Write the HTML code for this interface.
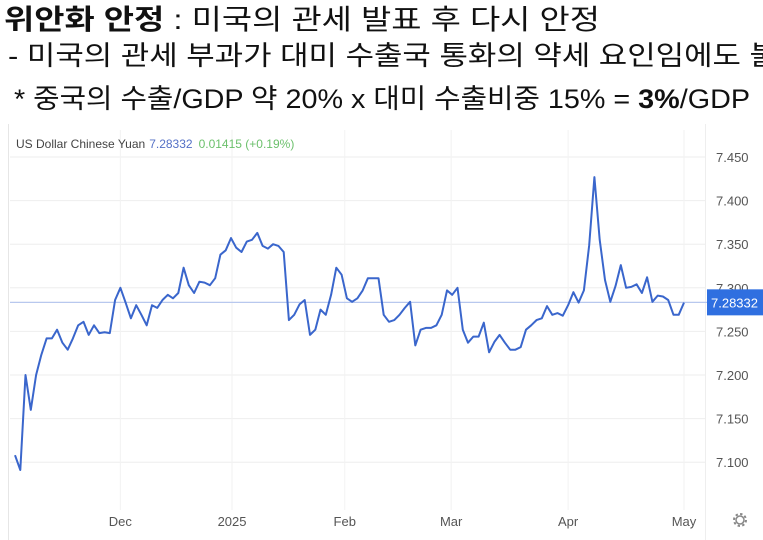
<!DOCTYPE html>
<html><head><meta charset="utf-8"><style>
html,body{margin:0;padding:0;background:#fff;width:763px;height:540px;overflow:hidden}
svg{display:block}
.k{font-family:"Liberation Sans","Noto Sans CJK KR",sans-serif}
</style></head><body>
<svg width="763" height="540">
<g class="k" fill="#111">
<text x="4" y="29" font-size="28" textLength="596" lengthAdjust="spacingAndGlyphs"><tspan font-weight="bold">위안화 안정</tspan> : 미국의 관세 발표 후 다시 안정</text>
<text x="8" y="65" font-size="27" textLength="770" lengthAdjust="spacingAndGlyphs">- 미국의 관세 부과가 대미 수출국 통화의 약세 요인임에도 불</text>
<text x="14" y="108" font-size="27" textLength="736" lengthAdjust="spacingAndGlyphs">* 중국의 수출/GDP 약 20% x 대미 수출비중 15% = <tspan font-weight="bold">3%</tspan>/GDP</text>
</g>
<rect x="8" y="124" width="755" height="416" fill="#fff"/>
<line x1="8.5" y1="124" x2="8.5" y2="540" stroke="#e6e6e6"/>
<g id="grid"></g>
<g id="series"></g>
<g id="axes" font-family="Liberation Sans,sans-serif"></g>
<text x="16" y="148" font-size="12" font-family="Liberation Sans,sans-serif"><tspan fill="#444">US Dollar Chinese Yuan</tspan><tspan fill="#5470c6" dx="4">7.28332</tspan><tspan fill="#6cc06c" dx="6">0.01415 (+0.19%)</tspan></text>
<g transform="translate(740,520)">
<circle r="6" fill="none" stroke="#888" stroke-width="2" stroke-dasharray="2.4 2.3"/>
<circle r="4" fill="none" stroke="#888" stroke-width="1.5"/>
</g>
</svg>
<script>
const yTicks=[7.45,7.40,7.35,7.30,7.25,7.20,7.15,7.10];
const monthLabels=["Dec","2025","Feb","Mar","Apr","May"];
const monthIndex=[20,41.2,62.6,82.8,105,127];
const lastPrice=7.28332;
const values=[7.108,7.091,7.200,7.160,7.200,7.223,7.242,7.242,7.252,7.237,7.229,7.242,7.257,7.261,7.246,7.257,7.248,7.249,7.248,7.286,7.300,7.283,7.265,7.280,7.269,7.257,7.280,7.277,7.286,7.292,7.288,7.294,7.323,7.303,7.294,7.307,7.306,7.303,7.311,7.338,7.343,7.357,7.346,7.341,7.353,7.355,7.363,7.348,7.345,7.350,7.348,7.341,7.263,7.269,7.281,7.286,7.246,7.252,7.275,7.269,7.292,7.323,7.315,7.288,7.284,7.288,7.297,7.311,7.311,7.311,7.269,7.261,7.263,7.269,7.277,7.284,7.234,7.252,7.254,7.254,7.257,7.269,7.297,7.292,7.300,7.252,7.237,7.244,7.244,7.260,7.226,7.238,7.246,7.237,7.229,7.229,7.232,7.252,7.257,7.263,7.265,7.279,7.269,7.271,7.268,7.280,7.295,7.283,7.297,7.349,7.427,7.355,7.309,7.284,7.302,7.326,7.300,7.301,7.304,7.294,7.312,7.284,7.291,7.290,7.286,7.269,7.269,7.283];
const NS="http://www.w3.org/2000/svg";
const X0=15,X1=684;
function x(i){return X0+(X1-X0)*i/(values.length-1);}
function y(v){return 157+(7.45-v)/0.05*43.6;}
function mk(t,a,p){const e=document.createElementNS(NS,t);for(const k in a)e.setAttribute(k,a[k]);p.appendChild(e);return e;}
const grid=document.getElementById('grid'),axes=document.getElementById('axes'),ser=document.getElementById('series');
yTicks.forEach(v=>{
 const l=mk('line',{x1:10,x2:705,y1:y(v),y2:y(v),stroke:'#eeeeee'},grid);
 
 
 const t=mk('text',{x:716,y:y(v)+5,'font-size':13,fill:'#555'},axes);
 
 
 t.textContent=v.toFixed(3);
});
monthIndex.forEach((m,k)=>{
 const l=mk('line',{x1:x(m),x2:x(m),y1:130,y2:510,stroke:'#f2f2f2'},grid);
 
 
 const t=mk('text',{x:x(m),y:526,'font-size':13,fill:'#555','text-anchor':'middle'},axes);
 
 
 t.textContent=monthLabels[k];
});
const vl=mk('line',{x1:705.5,x2:705.5,y1:124,y2:540,stroke:'#eeeeee'},grid);


const pl=mk('line',{x1:10,x2:707,y1:y(lastPrice),y2:y(lastPrice),stroke:'#b8c8ee','stroke-width':1.2},ser);


const path=mk('path',{d:values.map((v,i)=>(i?'L':'M')+x(i).toFixed(1)+','+y(v).toFixed(1)).join(''),fill:'none',stroke:'#3a66cc','stroke-width':2,'stroke-linejoin':'round'},ser);


const bx=mk('rect',{x:707,y:y(lastPrice)-13,width:56,height:26,fill:'#2f6fe0'},axes);


const bt=mk('text',{x:711,y:y(lastPrice)+5,'font-size':13,fill:'#fff'},axes);


bt.textContent=lastPrice.toFixed(5);
</script>
</body></html>
